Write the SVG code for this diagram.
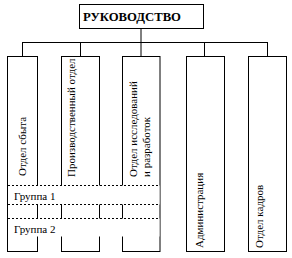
<svg xmlns="http://www.w3.org/2000/svg" width="292" height="258" viewBox="0 0 292 258">
<style>
.box{fill:#fff;stroke:#000;stroke-width:1}
.ln{fill:none;stroke:#000;stroke-width:1}
.dash{fill:none;stroke:#000;stroke-width:1;stroke-dasharray:2,2}
.t{font-family:"Liberation Serif","Times New Roman",serif;font-size:11px;fill:#000}
.h{font-family:"Liberation Serif","Times New Roman",serif;font-size:12.5px;font-weight:bold;fill:#000}
</style>
<rect width="292" height="258" fill="#fff"/>
<g id="connectors">
<line class="ln" x1="141" y1="28" x2="141" y2="42.5"/>
<line class="ln" x1="22" y1="42.5" x2="268" y2="42.5"/>
<line class="ln" x1="22.5" y1="42.5" x2="22.5" y2="56"/>
<line class="ln" x1="80.5" y1="42.5" x2="80.5" y2="56"/>
<line class="ln" x1="141" y1="42.5" x2="141" y2="56"/>
<line class="ln" x1="204.5" y1="42.5" x2="204.5" y2="56"/>
<line class="ln" x1="267.5" y1="42.5" x2="267.5" y2="56"/>
</g>
<g id="head">
<rect class="box" x="79.5" y="4.5" width="124" height="24"/>
<text class="h" x="83" y="21" textLength="98" lengthAdjust="spacingAndGlyphs">РУКОВОДСТВО</text>
</g>
<g id="sales">
<rect class="box" x="7.5" y="56.5" width="30" height="195"/>
<text class="t" transform="translate(26,176) rotate(-90)">Отдел сбыта</text>
</g>
<g id="production">
<rect class="box" x="61.5" y="56.5" width="38" height="195"/>
<text class="t" transform="translate(75,177) rotate(-90)">Производственный отдел</text>
</g>
<g id="research">
<rect class="box" x="122.5" y="56.5" width="37.5" height="195"/>
<text class="t" transform="translate(137,177) rotate(-90)">Отдел исследований</text>
<text class="t" transform="translate(150,177) rotate(-90)">и разработок</text>
</g>
<g id="admin">
<rect class="box" x="186.5" y="56.5" width="38" height="195"/>
<text class="t" transform="translate(203,248) rotate(-90)">Администрация</text>
</g>
<g id="hr">
<rect class="box" x="248.5" y="56.5" width="38" height="195"/>
<text class="t" transform="translate(263,248) rotate(-90)">Отдел кадров</text>
</g>
<g id="group1">
<rect x="8" y="185.5" width="151.5" height="19" fill="#fff"/>
<line class="dash" x1="8" y1="185.5" x2="160" y2="185.5"/>
<line class="dash" x1="8" y1="204.5" x2="160" y2="204.5"/>
<text class="t" x="14" y="200">Группа 1</text>
</g>
<g id="group2">
<rect x="8" y="218.5" width="151.5" height="18" fill="#fff"/>
<line class="dash" x1="8" y1="218.5" x2="160" y2="218.5"/>
<text class="t" x="14" y="233">Группа 2</text>
</g>
</svg>
